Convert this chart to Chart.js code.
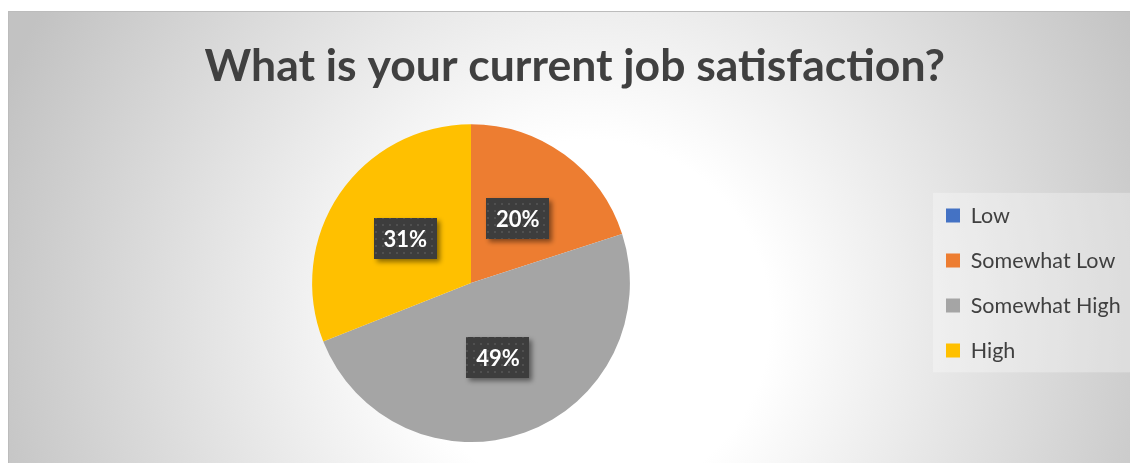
<!DOCTYPE html>
<html>
<head>
<meta charset="utf-8">
<title>Job satisfaction</title>
<script src="https://cdn.jsdelivr.net/npm/chart.js@4/dist/chart.umd.min.js"></script>
<style>
  body { margin: 0; background: #fff; }
  #panel {
    position: absolute; left: 8px; top: 11px;
    width: 1121px; height: 451px;
    border-top: 1px solid #bcbcbc; border-left: 1px solid #bcbcbc;
  }
</style>
</head>
<body>
<div id="panel"><canvas id="pie"></canvas></div>
<script>
// ───── Survey data ─────────────────────────────────────────────────────────
const categories = ['Low', 'Somewhat Low', 'Somewhat High', 'High'];
const shares = [0, 20, 49, 31];               // percent of respondents
const sliceColors = ['#4472C4', '#ED7D31', '#A5A5A5', '#FFC000'];
const chartTitle = 'What is your current job satisfaction?';

const FONT = 'Lato, "Open Sans", sans-serif';

// Dotted dark fill used behind the percentage labels.
function makeDotPattern(ctx) {
  const tile = document.createElement('canvas');
  tile.width = 7; tile.height = 7;
  const t = tile.getContext('2d');
  t.fillStyle = '#3d3d3d';
  t.fillRect(0, 0, 7, 7);
  t.fillStyle = '#505050';
  t.fillRect(2, 2, 2, 2);
  return ctx.createPattern(tile, 'repeat');
}

// Soft radial backdrop plus the tinted box behind the legend.
const backdrop = {
  id: 'backdrop',
  beforeDraw(chart) {
    const { ctx, width, height, legend } = chart;
    ctx.save();
    const g = ctx.createRadialGradient(581, 308, 180, 581, 308, 630);
    g.addColorStop(0, '#ffffff');
    g.addColorStop(1, '#c2c2c2');
    ctx.fillStyle = g;
    ctx.fillRect(0, 0, width, height);

    const boxes = legend.legendHitBoxes;
    if (boxes && boxes.length) {
      const top = boxes[0].top - 12;
      const last = boxes[boxes.length - 1];
      const bottom = last.top + last.height + 11;
      ctx.fillStyle = 'rgba(255,255,255,0.3)';
      ctx.fillRect(legend.left + 10.5, top, width - legend.left - 10.5, bottom - top);
    }
    ctx.restore();
  }
};

// Percentage callouts: dark dotted box with a drop shadow at each slice centre.
const sliceLabels = {
  id: 'sliceLabels',
  afterDatasetsDraw(chart) {
    const { ctx } = chart;
    const pattern = makeDotPattern(ctx);
    const meta = chart.getDatasetMeta(0);
    meta.data.forEach((arc, i) => {
      const v = shares[i];
      if (!v) return;
      const { x, y } = arc.getCenterPoint();
      const w = 63, h = 41;
      ctx.save();
      ctx.shadowColor = 'rgba(0,0,0,0.45)';
      ctx.shadowBlur = 5;
      ctx.shadowOffsetX = 3;
      ctx.shadowOffsetY = 3;
      ctx.fillStyle = pattern;
      ctx.fillRect(Math.round(x - w / 2), Math.round(y - h / 2), w, h);
      ctx.restore();

      ctx.save();
      ctx.fillStyle = '#ffffff';
      ctx.font = `bold 22px ${FONT}`;
      ctx.textAlign = 'center';
      ctx.textBaseline = 'middle';
      ctx.fillText(v + '%', x, y + 1);
      ctx.restore();
    });
  }
};

new Chart(document.getElementById('pie'), {
  type: 'pie',
  data: {
    labels: categories,
    datasets: [{
      data: shares,
      backgroundColor: sliceColors,
      borderWidth: 0,
      hoverOffset: 0,
    }],
  },
  options: {
    responsive: true,
    maintainAspectRatio: false,
    animation: false,
    layout: { padding: { top: 27.6, left: 10.5, right: 0, bottom: 21 } },
    plugins: {
      title: {
        display: true,
        text: chartTitle,
        color: '#404040',
        font: { family: FONT, size: 44.5, weight: 'bold', lineHeight: 1.2 },
        padding: { top: 0, bottom: 31.2 },
      },
      legend: {
        position: 'right',
        fullSize: false,
        maxWidth: 207.5,
        labels: {
          color: '#404040',
          boxWidth: 14,
          boxHeight: 14,
          padding: 23.5,
          font: { family: FONT, size: 21.5 },
        },
      },
      tooltip: { enabled: false },
    },
  },
  plugins: [backdrop, sliceLabels],
});
</script>
</body>
</html>
